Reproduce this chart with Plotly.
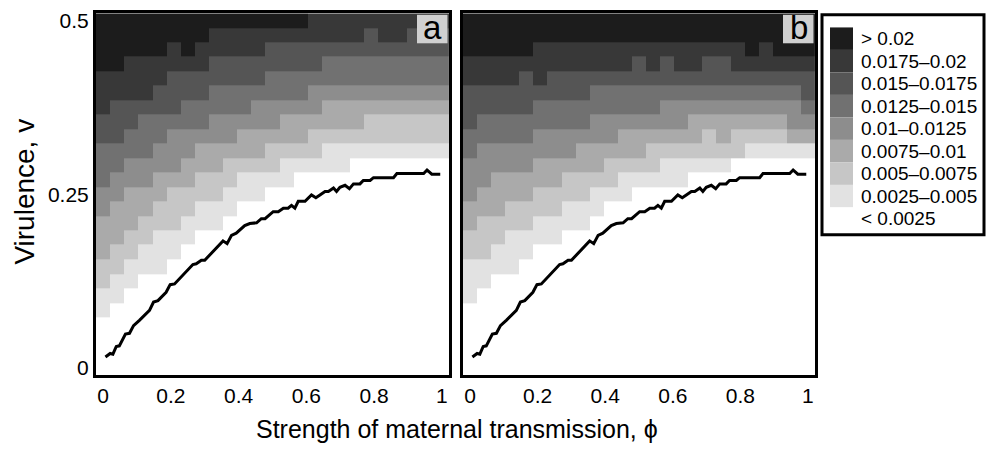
import plotly.graph_objects as go

W, H = 987, 451

# ---------------- data ----------------
phi_grid = [0.0, 0.042, 0.083, 0.125, 0.167, 0.208, 0.25, 0.292, 0.333, 0.375, 0.417, 0.458,
            0.5, 0.542, 0.583, 0.625, 0.667, 0.708, 0.75, 0.792, 0.833, 0.875, 0.917, 0.958, 1.0]
v_grid = [0.0, 0.021, 0.042, 0.063, 0.083, 0.104, 0.125, 0.146, 0.167, 0.188, 0.208, 0.229,
          0.25, 0.271, 0.292, 0.313, 0.333, 0.354, 0.375, 0.396, 0.417, 0.438, 0.458, 0.479, 0.5]

# class index per cell (0 = "< 0.0025" ... 8 = "> 0.02"), rows listed from v = 0.5 down to v = 0
panel_a_rows = [
    "8888888888888887777777777",
    "8888888877777777777677666",
    "8888878777776666666666666",
    "8877777766666666555555555",
    "7777766666665555555555555",
    "7777666655555554444444444",
    "7666665555544444333333333",
    "6665555544444333333222222",
    "6655544444333332222222222",
    "5555444333332222111111111",
    "5544443332222111110000000",
    "5444333222111100000000000",
    "4433322221110000000000000",
    "4333222111000000000000000",
    "3332221110000000000000000",
    "3322111000000000000000000",
    "3221110000000000000000000",
    "2211100000000000000000000",
    "2110000000000000000000000",
    "1100000000000000000000000",
    "1000000000000000000000000",
    "0000000000000000000000000",
    "0000000000000000000000000",
    "0000000000000000000000000",
    "0000000000000000000000000",
]
panel_b_rows = [
    "8888888888888888888888888",
    "8888888888888888888888888",
    "8888877777777777777787888",
    "7777777777776767766777777",
    "7777676666666666666666666",
    "6666666665555555555555556",
    "6666655555555544444444445",
    "6555555554444444333333344",
    "5555544444433333323222233",
    "5444444433333222222211111",
    "4444433333222211111000000",
    "4433333222211111000000000",
    "4333322221110000000000000",
    "3332222111000000000000000",
    "3222211110000000000000000",
    "2221111000000000000000000",
    "2211100000000000000000000",
    "1111000000000000000000000",
    "1100000000000000000000000",
    "1000000000000000000000000",
    "0000000000000000000000000",
    "0000000000000000000000000",
    "0000000000000000000000000",
    "0000000000000000000000000",
    "0000000000000000000000000",
]

class_labels = ["< 0.0025", "0.0025\u20130.005", "0.005\u20130.0075", "0.0075\u20130.01",
                "0.01\u20130.0125", "0.0125\u20130.015", "0.015\u20130.0175", "0.0175\u20130.02", "> 0.02"]
class_colors = ["#ffffff", "#e2e2e2", "#c6c6c6", "#aaaaaa", "#8d8d8d",
                "#717171", "#555555", "#383838", "#1c1c1c"]

line_phi = [0.007, 0.021, 0.029, 0.039, 0.048, 0.066, 0.078, 0.090, 0.108, 0.137, 0.149, 0.162,
            0.186, 0.198, 0.211, 0.265, 0.275, 0.290, 0.300, 0.354, 0.366, 0.379, 0.393, 0.418,
            0.433, 0.453, 0.467, 0.478, 0.502, 0.517, 0.532, 0.546, 0.556, 0.566, 0.576, 0.596,
            0.615, 0.628, 0.640, 0.655, 0.665, 0.680, 0.689, 0.699, 0.714, 0.727, 0.739, 0.758,
            0.768, 0.788, 0.798, 0.857, 0.867, 0.946, 0.956, 0.970, 0.995]
line_v = [0.016, 0.021, 0.020, 0.031, 0.032, 0.049, 0.050, 0.061, 0.069, 0.083, 0.095, 0.097,
          0.109, 0.120, 0.121, 0.149, 0.150, 0.155, 0.155, 0.183, 0.179, 0.191, 0.194, 0.205,
          0.208, 0.209, 0.215, 0.215, 0.225, 0.225, 0.230, 0.230, 0.234, 0.230, 0.240, 0.240,
          0.249, 0.245, 0.249, 0.254, 0.254, 0.259, 0.254, 0.260, 0.263, 0.258, 0.265, 0.265,
          0.270, 0.270, 0.274, 0.274, 0.280, 0.280, 0.285, 0.279, 0.279]

x_ticks = [0, 0.2, 0.4, 0.6, 0.8, 1]
x_ticktext = ["0", "0.2", "0.4", "0.6", "0.8", "1"]
y_ticks = [0, 0.25, 0.5]
y_ticktext = ["0", "0.25", "0.5"]
panel_tags = ["a", "b"]

# ---------------- figure ----------------
FONT = "Liberation Sans, Arial, sans-serif"


def rows_to_z(rows):
    return [[int(c) for c in r] for r in reversed(rows)]


colorscale = [[k / 8, class_colors[k]] for k in range(9)]

fig = go.Figure()
for idx, rows in enumerate([panel_a_rows, panel_b_rows]):
    xa = "x" if idx == 0 else "x2"
    ya = "y" if idx == 0 else "y2"
    fig.add_trace(go.Heatmap(x=phi_grid, y=v_grid, z=rows_to_z(rows), zmin=0, zmax=8,
                             colorscale=colorscale, showscale=False, xaxis=xa, yaxis=ya,
                             hoverinfo="skip"))
    fig.add_trace(go.Scatter(x=line_phi, y=line_v, mode="lines",
                             line=dict(color="black", width=3), xaxis=xa, yaxis=ya,
                             showlegend=False, hoverinfo="skip"))


def px(xp):
    return xp / W


def py(yp):
    return 1 - yp / H


panels = [(96, 449), (463, 815)]
top, bottom = 9.5, 378
xr = [-1 / 48, 1 + 1 / 48]
yr = [-0.5 / 48, 0.5 + 0.5 / 48]

axis_common = dict(showline=True, mirror=True, linewidth=3, linecolor="black",
                   showgrid=False, zeroline=False, ticks="",
                   tickfont=dict(family=FONT, size=21, color="black"))

fig.update_layout(
    width=W, height=H, margin=dict(l=0, r=0, t=0, b=0),
    paper_bgcolor="white", plot_bgcolor="white", showlegend=False,
    xaxis=dict(domain=[px(panels[0][0]), px(panels[0][1])], range=xr, anchor="y",
               tickvals=x_ticks, ticktext=x_ticktext, **axis_common),
    yaxis=dict(domain=[py(bottom), py(top)], range=yr, anchor="x",
               tickvals=y_ticks, ticktext=y_ticktext, **axis_common),
    xaxis2=dict(domain=[px(panels[1][0]), px(panels[1][1])], range=xr, anchor="y2",
                tickvals=x_ticks, ticktext=x_ticktext, **axis_common),
    yaxis2=dict(domain=[py(bottom), py(top)], range=yr, anchor="x2",
                tickvals=y_ticks, showticklabels=False, **axis_common),
)

shapes = []
annotations = []

# panel tags
for (x0, x1), tag in zip(panels, panel_tags):
    shapes.append(dict(type="rect", xref="paper", yref="paper",
                       x0=px(x1 - 32), x1=px(x1 - 1.5), y0=py(40), y1=py(11),
                       fillcolor="#d0d0d0", line=dict(width=0), layer="above"))
    annotations.append(dict(xref="paper", yref="paper", x=px(x1 - 16.5), y=py(24),
                            text=tag, showarrow=False, xanchor="center", yanchor="middle",
                            font=dict(family=FONT, size=33, color="black")))

# legend
lg_x0, lg_x1, lg_y0, lg_y1 = 822, 984, 11, 235
shapes.append(dict(type="rect", xref="paper", yref="paper",
                   x0=px(lg_x0), x1=px(lg_x1), y0=py(lg_y1), y1=py(lg_y0),
                   line=dict(color="black", width=3), fillcolor="white"))
row_h = 22.9
first_c = 35.3
for k, lab in enumerate(reversed(class_labels)):
    col = class_colors[8 - k]
    cy = first_c + k * row_h
    shapes.append(dict(type="rect", xref="paper", yref="paper",
                       x0=px(830), x1=px(853), y0=py(cy + row_h / 2), y1=py(cy - row_h / 2),
                       fillcolor=col, line=dict(width=0)))
    annotations.append(dict(xref="paper", yref="paper", x=px(859), y=py(cy), text=lab,
                            showarrow=False, xanchor="left", yanchor="middle",
                            font=dict(family=FONT, size=19, color="black")))

# axis titles
annotations.append(dict(xref="paper", yref="paper", x=px(457), y=py(433),
                        text="Strength of maternal transmission, \u03d5", showarrow=False,
                        xanchor="center", yanchor="middle",
                        font=dict(family=FONT, size=25, color="black")))
annotations.append(dict(xref="paper", yref="paper", x=px(25), y=py(191),
                        text="Virulence, v", showarrow=False, textangle=-90,
                        xanchor="center", yanchor="middle",
                        font=dict(family=FONT, size=28, color="black")))

fig.update_layout(shapes=shapes, annotations=annotations)
fig.write_html("out.html")
